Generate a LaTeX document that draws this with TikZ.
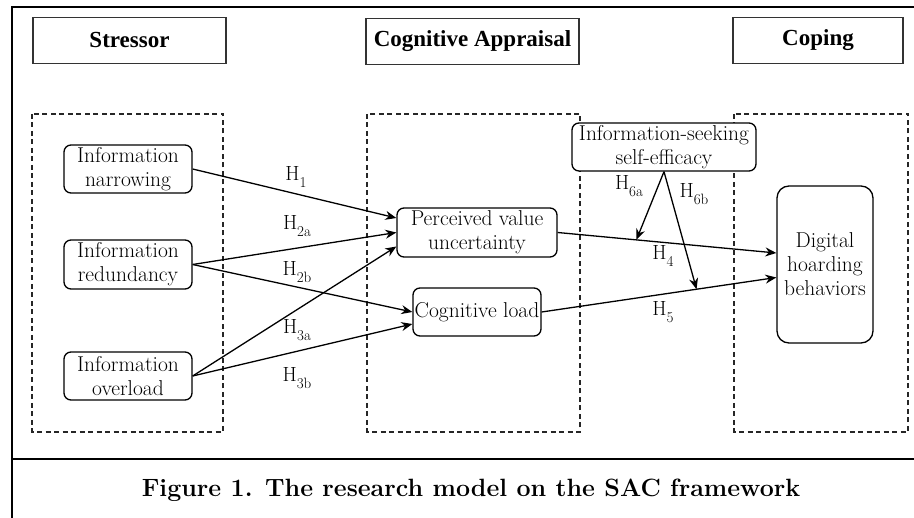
\documentclass[tikz,border=0pt]{standalone}
\usepackage{fontspec}
\newfontfamily\headfont{Liberation Serif}
\usetikzlibrary{arrows.meta}
% hypothesis label: H with a subscript
\newcommand\hlabel[1]{H\raisebox{-0.32em}{\fontsize{15}{15}\selectfont #1}}
\begin{document}
\begin{tikzpicture}[x=1pt,y=-1pt,
  every node/.style={inner sep=0pt},
  header/.style={draw=black!80, line width=1.6pt, minimum height=46pt,
    font=\headfont\bfseries\fontsize{23}{26}\selectfont},
  group/.style={draw=black!85, dashed, dash pattern=on 5pt off 3.5pt, line width=1.2pt},
  construct/.style={draw, rounded corners=7pt, line width=1.3pt, align=center,
    font=\fontsize{21.5}{24}\selectfont},
  link/.style={line width=1.3pt, -{Stealth[length=11pt,width=9pt]}},
  hyp/.style={font=\fontsize{20.5}{22}\selectfont}]
\useasboundingbox (0,0) rectangle (914,518);

% page frame and caption rule
\draw[line width=2.4pt] (12,518) -- (12,7) -- (914,7);
\draw[line width=2.4pt] (12,459) -- (914,459);

% stage headers
\node[header, minimum width=193pt] (hs) at (129.5,40.5) {Stressor};
\node[header, minimum width=213pt] (ha) at (472.5,41.5) {Cognitive Appraisal};
\node[header, minimum width=170pt] (hc) at (818,40.5) {Coping};

% dashed stage groups
\draw[group] (32,114) rectangle (223,432);
\draw[group] (367,114) rectangle (580,432);
\draw[group] (734,114) rectangle (908,432);

% constructs
\node[construct, minimum width=128pt, minimum height=48pt] (nar) at (128,169) {Information\\narrowing};
\node[construct, minimum width=128pt, minimum height=49pt] (red) at (128,264.5) {Information\\redundancy};
\node[construct, minimum width=128pt, minimum height=48pt] (ovl) at (128,376) {Information\\overload};
\node[construct, minimum width=160pt, minimum height=49pt] (pvu) at (477,232.5) {Perceived value\\uncertainty};
\node[construct, minimum width=128pt, minimum height=48pt] (cl) at (477,312) {Cognitive load};
\node[construct, fill=white, minimum width=184pt, minimum height=48pt] (ise) at (664,147) {Information-seeking\\self-efficacy};
\node[construct, rounded corners=12pt, minimum width=96pt, minimum height=157pt] (dhb) at (825,264.5) {Digital\\hoarding\\behaviors};

% stressor -> appraisal paths
\draw[link] (nar.east) -- ([yshift=14.5pt]pvu.west);
\draw[link] (red.east) -- (pvu.west);
\draw[link] (ovl.east) -- ([yshift=-14pt]pvu.west);
\draw[link] (red.east) -- (cl.west);
\draw[link] (ovl.east) -- ([yshift=-12pt]cl.west);

% appraisal -> coping paths
\draw[link] (pvu.east) -- coordinate[pos=0.36] (m4) ([yshift=11.5pt]dhb.west);
\draw[link] (cl.east) -- coordinate[pos=0.66] (m5) ([yshift=-13pt]dhb.west);

% moderation by self-efficacy
\draw[link] (ise.south) -- (m4);
\draw[link] (ise.south) -- (m5);

% hypothesis labels
\node[hyp] (h1) at (296,177) {\hlabel{1}};
\node[hyp] (h2a) at (297,226) {\hlabel{2a}};
\node[hyp] (h2b) at (297,272) {\hlabel{2b}};
\node[hyp] (h3a) at (297,330) {\hlabel{3a}};
\node[hyp] (h3b) at (297,378) {\hlabel{3b}};
\node[hyp] (h4) at (663,256) {\hlabel{4}};
\node[hyp] (h5) at (663,312) {\hlabel{5}};
\node[hyp] (h6a) at (629,186) {\hlabel{6a}};
\node[hyp] (h6b) at (694,194) {\hlabel{6b}};

% caption
\node[font=\bfseries\fontsize{25}{30}\selectfont] (cap) at (471,490) {Figure 1. The research model on the SAC framework};
\end{tikzpicture}
\end{document}
